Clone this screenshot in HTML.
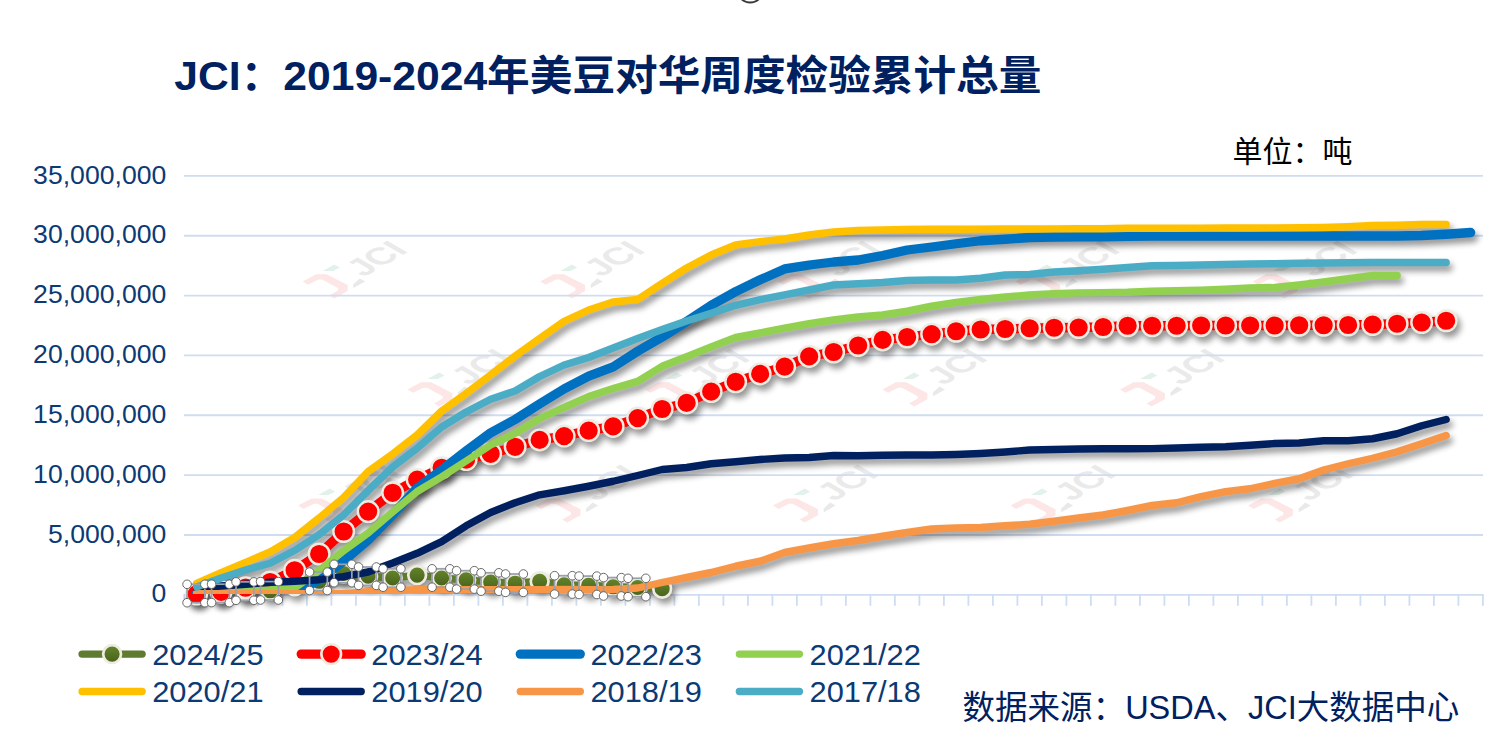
<!DOCTYPE html>
<html lang="zh-CN"><head><meta charset="utf-8"><title>JCI：2019-2024年美豆对华周度检验累计总量</title>
<style>html,body{margin:0;padding:0;background:#fff;overflow:hidden;font-family:"Liberation Sans",sans-serif}svg{display:block}</style></head>
<body>
<!-- Line chart recreated as inline SVG. Visible text is real <text> elements. -->
<svg width="1505" height="742" viewBox="0 0 1505 742" role="img" aria-label="JCI：2019-2024年美豆对华周度检验累计总量">
<defs>
<filter id="sh" filterUnits="userSpaceOnUse" x="0" y="0" width="1505" height="742" color-interpolation-filters="sRGB"><feGaussianBlur in="SourceAlpha" stdDeviation="3.2"/><feOffset dx="3" dy="4.6"/><feComponentTransfer><feFuncA type="linear" slope="0.42"/></feComponentTransfer></filter>
<linearGradient id="gg" x1="0" y1="0" x2="0" y2="1"><stop offset="0" stop-color="#65862B"/><stop offset="1" stop-color="#48611C"/></linearGradient>
<clipPath id="pc"><rect x="150" y="150" width="1355" height="444.1"/></clipPath>
</defs>
<rect width="1505" height="742" fill="#fff"/>
<circle cx="750.2" cy="-10.6" r="13.1" fill="none" stroke="#3a3a3a" stroke-width="1.9"/>
<g font-family="'Liberation Sans',sans-serif" font-weight="bold" font-size="34" fill="#EAEAEA">
<g transform="translate(355.9,269.3)"><path fill="#FDE6E6" d="M-53.2,12.1 L-39.8,4.9 L-29.5,4.9 L-8.3,15.8 L-8.3,21.8 L-21.6,29.1 L-26.5,26.1 L-18,21.2 L-18,18.8 L-33.7,10.3 L-37.4,10.3 L-47.7,15.4 Z"/> <path fill="#E2F1EA" d="M-33.1,1.6 L-21.6,-4.9 L-16.1,-1.8 L-22.8,1.6 Z"/> <path fill="#E9E9E9" d="M-2.8,15.2 L3.9,9.1 L9.3,12.1 L-2.5,18.8 Z"/> <text transform="matrix(0.866,-0.5,0.866,0.5,7.6,8.3)" x="0" y="0">JCI</text></g>
<g transform="translate(593.4,269.3)"><path fill="#FDE6E6" d="M-53.2,12.1 L-39.8,4.9 L-29.5,4.9 L-8.3,15.8 L-8.3,21.8 L-21.6,29.1 L-26.5,26.1 L-18,21.2 L-18,18.8 L-33.7,10.3 L-37.4,10.3 L-47.7,15.4 Z"/> <path fill="#E2F1EA" d="M-33.1,1.6 L-21.6,-4.9 L-16.1,-1.8 L-22.8,1.6 Z"/> <path fill="#E9E9E9" d="M-2.8,15.2 L3.9,9.1 L9.3,12.1 L-2.5,18.8 Z"/> <text transform="matrix(0.866,-0.5,0.866,0.5,7.6,8.3)" x="0" y="0">JCI</text></g>
<g transform="translate(830.9,269.3)"><path fill="#FDE6E6" d="M-53.2,12.1 L-39.8,4.9 L-29.5,4.9 L-8.3,15.8 L-8.3,21.8 L-21.6,29.1 L-26.5,26.1 L-18,21.2 L-18,18.8 L-33.7,10.3 L-37.4,10.3 L-47.7,15.4 Z"/> <path fill="#E2F1EA" d="M-33.1,1.6 L-21.6,-4.9 L-16.1,-1.8 L-22.8,1.6 Z"/> <path fill="#E9E9E9" d="M-2.8,15.2 L3.9,9.1 L9.3,12.1 L-2.5,18.8 Z"/> <text transform="matrix(0.866,-0.5,0.866,0.5,7.6,8.3)" x="0" y="0">JCI</text></g>
<g transform="translate(1068.4,269.3)"><path fill="#FDE6E6" d="M-53.2,12.1 L-39.8,4.9 L-29.5,4.9 L-8.3,15.8 L-8.3,21.8 L-21.6,29.1 L-26.5,26.1 L-18,21.2 L-18,18.8 L-33.7,10.3 L-37.4,10.3 L-47.7,15.4 Z"/> <path fill="#E2F1EA" d="M-33.1,1.6 L-21.6,-4.9 L-16.1,-1.8 L-22.8,1.6 Z"/> <path fill="#E9E9E9" d="M-2.8,15.2 L3.9,9.1 L9.3,12.1 L-2.5,18.8 Z"/> <text transform="matrix(0.866,-0.5,0.866,0.5,7.6,8.3)" x="0" y="0">JCI</text></g>
<g transform="translate(1305.9,269.3)"><path fill="#FDE6E6" d="M-53.2,12.1 L-39.8,4.9 L-29.5,4.9 L-8.3,15.8 L-8.3,21.8 L-21.6,29.1 L-26.5,26.1 L-18,21.2 L-18,18.8 L-33.7,10.3 L-37.4,10.3 L-47.7,15.4 Z"/> <path fill="#E2F1EA" d="M-33.1,1.6 L-21.6,-4.9 L-16.1,-1.8 L-22.8,1.6 Z"/> <path fill="#E9E9E9" d="M-2.8,15.2 L3.9,9.1 L9.3,12.1 L-2.5,18.8 Z"/> <text transform="matrix(0.866,-0.5,0.866,0.5,7.6,8.3)" x="0" y="0">JCI</text></g>
<g transform="translate(460.7,377.4)"><path fill="#FDE6E6" d="M-53.2,12.1 L-39.8,4.9 L-29.5,4.9 L-8.3,15.8 L-8.3,21.8 L-21.6,29.1 L-26.5,26.1 L-18,21.2 L-18,18.8 L-33.7,10.3 L-37.4,10.3 L-47.7,15.4 Z"/> <path fill="#E2F1EA" d="M-33.1,1.6 L-21.6,-4.9 L-16.1,-1.8 L-22.8,1.6 Z"/> <path fill="#E9E9E9" d="M-2.8,15.2 L3.9,9.1 L9.3,12.1 L-2.5,18.8 Z"/> <text transform="matrix(0.866,-0.5,0.866,0.5,7.6,8.3)" x="0" y="0">JCI</text></g>
<g transform="translate(698.2,377.4)"><path fill="#FDE6E6" d="M-53.2,12.1 L-39.8,4.9 L-29.5,4.9 L-8.3,15.8 L-8.3,21.8 L-21.6,29.1 L-26.5,26.1 L-18,21.2 L-18,18.8 L-33.7,10.3 L-37.4,10.3 L-47.7,15.4 Z"/> <path fill="#E2F1EA" d="M-33.1,1.6 L-21.6,-4.9 L-16.1,-1.8 L-22.8,1.6 Z"/> <path fill="#E9E9E9" d="M-2.8,15.2 L3.9,9.1 L9.3,12.1 L-2.5,18.8 Z"/> <text transform="matrix(0.866,-0.5,0.866,0.5,7.6,8.3)" x="0" y="0">JCI</text></g>
<g transform="translate(935.7,377.4)"><path fill="#FDE6E6" d="M-53.2,12.1 L-39.8,4.9 L-29.5,4.9 L-8.3,15.8 L-8.3,21.8 L-21.6,29.1 L-26.5,26.1 L-18,21.2 L-18,18.8 L-33.7,10.3 L-37.4,10.3 L-47.7,15.4 Z"/> <path fill="#E2F1EA" d="M-33.1,1.6 L-21.6,-4.9 L-16.1,-1.8 L-22.8,1.6 Z"/> <path fill="#E9E9E9" d="M-2.8,15.2 L3.9,9.1 L9.3,12.1 L-2.5,18.8 Z"/> <text transform="matrix(0.866,-0.5,0.866,0.5,7.6,8.3)" x="0" y="0">JCI</text></g>
<g transform="translate(1173.2,377.4)"><path fill="#FDE6E6" d="M-53.2,12.1 L-39.8,4.9 L-29.5,4.9 L-8.3,15.8 L-8.3,21.8 L-21.6,29.1 L-26.5,26.1 L-18,21.2 L-18,18.8 L-33.7,10.3 L-37.4,10.3 L-47.7,15.4 Z"/> <path fill="#E2F1EA" d="M-33.1,1.6 L-21.6,-4.9 L-16.1,-1.8 L-22.8,1.6 Z"/> <path fill="#E9E9E9" d="M-2.8,15.2 L3.9,9.1 L9.3,12.1 L-2.5,18.8 Z"/> <text transform="matrix(0.866,-0.5,0.866,0.5,7.6,8.3)" x="0" y="0">JCI</text></g>
<g transform="translate(351.3,493.5)"><path fill="#FDE6E6" d="M-53.2,12.1 L-39.8,4.9 L-29.5,4.9 L-8.3,15.8 L-8.3,21.8 L-21.6,29.1 L-26.5,26.1 L-18,21.2 L-18,18.8 L-33.7,10.3 L-37.4,10.3 L-47.7,15.4 Z"/> <path fill="#E2F1EA" d="M-33.1,1.6 L-21.6,-4.9 L-16.1,-1.8 L-22.8,1.6 Z"/> <path fill="#E9E9E9" d="M-2.8,15.2 L3.9,9.1 L9.3,12.1 L-2.5,18.8 Z"/> <text transform="matrix(0.866,-0.5,0.866,0.5,7.6,8.3)" x="0" y="0">JCI</text></g>
<g transform="translate(588.8,493.5)"><path fill="#FDE6E6" d="M-53.2,12.1 L-39.8,4.9 L-29.5,4.9 L-8.3,15.8 L-8.3,21.8 L-21.6,29.1 L-26.5,26.1 L-18,21.2 L-18,18.8 L-33.7,10.3 L-37.4,10.3 L-47.7,15.4 Z"/> <path fill="#E2F1EA" d="M-33.1,1.6 L-21.6,-4.9 L-16.1,-1.8 L-22.8,1.6 Z"/> <path fill="#E9E9E9" d="M-2.8,15.2 L3.9,9.1 L9.3,12.1 L-2.5,18.8 Z"/> <text transform="matrix(0.866,-0.5,0.866,0.5,7.6,8.3)" x="0" y="0">JCI</text></g>
<g transform="translate(826.3,493.5)"><path fill="#FDE6E6" d="M-53.2,12.1 L-39.8,4.9 L-29.5,4.9 L-8.3,15.8 L-8.3,21.8 L-21.6,29.1 L-26.5,26.1 L-18,21.2 L-18,18.8 L-33.7,10.3 L-37.4,10.3 L-47.7,15.4 Z"/> <path fill="#E2F1EA" d="M-33.1,1.6 L-21.6,-4.9 L-16.1,-1.8 L-22.8,1.6 Z"/> <path fill="#E9E9E9" d="M-2.8,15.2 L3.9,9.1 L9.3,12.1 L-2.5,18.8 Z"/> <text transform="matrix(0.866,-0.5,0.866,0.5,7.6,8.3)" x="0" y="0">JCI</text></g>
<g transform="translate(1063.8,493.5)"><path fill="#FDE6E6" d="M-53.2,12.1 L-39.8,4.9 L-29.5,4.9 L-8.3,15.8 L-8.3,21.8 L-21.6,29.1 L-26.5,26.1 L-18,21.2 L-18,18.8 L-33.7,10.3 L-37.4,10.3 L-47.7,15.4 Z"/> <path fill="#E2F1EA" d="M-33.1,1.6 L-21.6,-4.9 L-16.1,-1.8 L-22.8,1.6 Z"/> <path fill="#E9E9E9" d="M-2.8,15.2 L3.9,9.1 L9.3,12.1 L-2.5,18.8 Z"/> <text transform="matrix(0.866,-0.5,0.866,0.5,7.6,8.3)" x="0" y="0">JCI</text></g>
<g transform="translate(1301.3,493.5)"><path fill="#FDE6E6" d="M-53.2,12.1 L-39.8,4.9 L-29.5,4.9 L-8.3,15.8 L-8.3,21.8 L-21.6,29.1 L-26.5,26.1 L-18,21.2 L-18,18.8 L-33.7,10.3 L-37.4,10.3 L-47.7,15.4 Z"/> <path fill="#E2F1EA" d="M-33.1,1.6 L-21.6,-4.9 L-16.1,-1.8 L-22.8,1.6 Z"/> <path fill="#E9E9E9" d="M-2.8,15.2 L3.9,9.1 L9.3,12.1 L-2.5,18.8 Z"/> <text transform="matrix(0.866,-0.5,0.866,0.5,7.6,8.3)" x="0" y="0">JCI</text></g>
</g>
<g stroke="#CFDDF0" stroke-width="1.9" fill="none">
<line x1="184" y1="175.90" x2="1483" y2="175.90"/>
<line x1="184" y1="235.74" x2="1483" y2="235.74"/>
<line x1="184" y1="295.58" x2="1483" y2="295.58"/>
<line x1="184" y1="355.42" x2="1483" y2="355.42"/>
<line x1="184" y1="415.26" x2="1483" y2="415.26"/>
<line x1="184" y1="475.10" x2="1483" y2="475.10"/>
<line x1="184" y1="534.94" x2="1483" y2="534.94"/>
<line x1="183.5" y1="594.85" x2="1483.8" y2="594.85" stroke-width="1.8"/>
<path d="M184.40,594.8V605.8M208.90,594.8V605.8M233.40,594.8V605.8M257.90,594.8V605.8M282.40,594.8V605.8M306.90,594.8V605.8M331.40,594.8V605.8M355.90,594.8V605.8M380.40,594.8V605.8M404.90,594.8V605.8M429.40,594.8V605.8M453.90,594.8V605.8M478.40,594.8V605.8M502.90,594.8V605.8M527.40,594.8V605.8M551.90,594.8V605.8M576.40,594.8V605.8M600.90,594.8V605.8M625.40,594.8V605.8M649.90,594.8V605.8M674.40,594.8V605.8M698.90,594.8V605.8M723.40,594.8V605.8M747.90,594.8V605.8M772.40,594.8V605.8M796.90,594.8V605.8M821.40,594.8V605.8M845.90,594.8V605.8M870.40,594.8V605.8M894.90,594.8V605.8M919.40,594.8V605.8M943.90,594.8V605.8M968.40,594.8V605.8M992.90,594.8V605.8M1017.40,594.8V605.8M1041.90,594.8V605.8M1066.40,594.8V605.8M1090.90,594.8V605.8M1115.40,594.8V605.8M1139.90,594.8V605.8M1164.40,594.8V605.8M1188.90,594.8V605.8M1213.40,594.8V605.8M1237.90,594.8V605.8M1262.40,594.8V605.8M1286.90,594.8V605.8M1311.40,594.8V605.8M1335.90,594.8V605.8M1360.40,594.8V605.8M1384.90,594.8V605.8M1409.40,594.8V605.8M1433.90,594.8V605.8M1458.40,594.8V605.8M1482.90,594.8V605.8" stroke-width="1.8"/>
</g>
<g>
<g filter="url(#sh)"><g clip-path="url(#pc)"><polyline points="196.65,593.50 221.15,593.40 245.65,591.10 270.15,590.80 294.65,586.20 319.15,581.30 343.65,573.50 368.15,576.20 392.65,578.00 417.15,575.10 441.65,578.00 466.15,579.90 490.65,582.00 515.15,583.20 539.65,581.30 564.15,584.90 588.65,585.30 613.15,586.80 637.65,587.50 662.15,588.70" fill="none" stroke="#5F7B2F" stroke-width="7.4" stroke-linecap="round" stroke-linejoin="round" /></g><circle cx="196.65" cy="593.50" r="8.9" fill="url(#gg)" stroke="#EEECE1" stroke-width="2.7"/><circle cx="221.15" cy="593.40" r="8.9" fill="url(#gg)" stroke="#EEECE1" stroke-width="2.7"/><circle cx="245.65" cy="591.10" r="8.9" fill="url(#gg)" stroke="#EEECE1" stroke-width="2.7"/><circle cx="270.15" cy="590.80" r="8.9" fill="url(#gg)" stroke="#EEECE1" stroke-width="2.7"/><circle cx="294.65" cy="586.20" r="8.9" fill="url(#gg)" stroke="#EEECE1" stroke-width="2.7"/><circle cx="319.15" cy="581.30" r="8.9" fill="url(#gg)" stroke="#EEECE1" stroke-width="2.7"/><circle cx="343.65" cy="573.50" r="8.9" fill="url(#gg)" stroke="#EEECE1" stroke-width="2.7"/><circle cx="368.15" cy="576.20" r="8.9" fill="url(#gg)" stroke="#EEECE1" stroke-width="2.7"/><circle cx="392.65" cy="578.00" r="8.9" fill="url(#gg)" stroke="#EEECE1" stroke-width="2.7"/><circle cx="417.15" cy="575.10" r="8.9" fill="url(#gg)" stroke="#EEECE1" stroke-width="2.7"/><circle cx="441.65" cy="578.00" r="8.9" fill="url(#gg)" stroke="#EEECE1" stroke-width="2.7"/><circle cx="466.15" cy="579.90" r="8.9" fill="url(#gg)" stroke="#EEECE1" stroke-width="2.7"/><circle cx="490.65" cy="582.00" r="8.9" fill="url(#gg)" stroke="#EEECE1" stroke-width="2.7"/><circle cx="515.15" cy="583.20" r="8.9" fill="url(#gg)" stroke="#EEECE1" stroke-width="2.7"/><circle cx="539.65" cy="581.30" r="8.9" fill="url(#gg)" stroke="#EEECE1" stroke-width="2.7"/><circle cx="564.15" cy="584.90" r="8.9" fill="url(#gg)" stroke="#EEECE1" stroke-width="2.7"/><circle cx="588.65" cy="585.30" r="8.9" fill="url(#gg)" stroke="#EEECE1" stroke-width="2.7"/><circle cx="613.15" cy="586.80" r="8.9" fill="url(#gg)" stroke="#EEECE1" stroke-width="2.7"/><circle cx="637.65" cy="587.50" r="8.9" fill="url(#gg)" stroke="#EEECE1" stroke-width="2.7"/><circle cx="662.15" cy="588.70" r="8.9" fill="url(#gg)" stroke="#EEECE1" stroke-width="2.7"/></g>
<g filter="url(#sh)"><g clip-path="url(#pc)"><polyline points="196.65,594.10 221.15,591.80 245.65,587.70 270.15,582.00 294.65,570.30 319.15,554.00 343.65,531.50 368.15,511.60 392.65,492.80 417.15,479.60 441.65,467.80 466.15,459.60 490.65,453.80 515.15,446.80 539.65,439.90 564.15,436.10 588.65,430.60 613.15,426.40 637.65,418.10 662.15,409.00 686.65,402.90 711.15,391.60 735.65,381.80 760.15,373.90 784.65,366.60 809.15,356.40 833.65,352.00 858.15,345.50 882.65,339.90 907.15,337.00 931.65,334.20 956.15,331.25 980.65,329.50 1005.15,329.00 1029.65,328.25 1054.15,327.75 1078.65,327.50 1103.15,327.00 1127.65,325.75 1152.15,325.75 1176.65,325.75 1201.15,325.50 1225.65,325.50 1250.15,325.50 1274.65,325.50 1299.15,325.25 1323.65,325.25 1348.15,325.00 1372.65,324.50 1397.15,323.75 1421.65,322.50 1446.15,320.75" fill="none" stroke="#FF0000" stroke-width="9.3" stroke-linecap="round" stroke-linejoin="round" /></g><circle cx="196.65" cy="594.10" r="10.3" fill="#FF0000" stroke="#EEECE1" stroke-width="2.4"/><circle cx="221.15" cy="591.80" r="10.3" fill="#FF0000" stroke="#EEECE1" stroke-width="2.4"/><circle cx="245.65" cy="587.70" r="10.3" fill="#FF0000" stroke="#EEECE1" stroke-width="2.4"/><circle cx="270.15" cy="582.00" r="10.3" fill="#FF0000" stroke="#EEECE1" stroke-width="2.4"/><circle cx="294.65" cy="570.30" r="10.3" fill="#FF0000" stroke="#EEECE1" stroke-width="2.4"/><circle cx="319.15" cy="554.00" r="10.3" fill="#FF0000" stroke="#EEECE1" stroke-width="2.4"/><circle cx="343.65" cy="531.50" r="10.3" fill="#FF0000" stroke="#EEECE1" stroke-width="2.4"/><circle cx="368.15" cy="511.60" r="10.3" fill="#FF0000" stroke="#EEECE1" stroke-width="2.4"/><circle cx="392.65" cy="492.80" r="10.3" fill="#FF0000" stroke="#EEECE1" stroke-width="2.4"/><circle cx="417.15" cy="479.60" r="10.3" fill="#FF0000" stroke="#EEECE1" stroke-width="2.4"/><circle cx="441.65" cy="467.80" r="10.3" fill="#FF0000" stroke="#EEECE1" stroke-width="2.4"/><circle cx="466.15" cy="459.60" r="10.3" fill="#FF0000" stroke="#EEECE1" stroke-width="2.4"/><circle cx="490.65" cy="453.80" r="10.3" fill="#FF0000" stroke="#EEECE1" stroke-width="2.4"/><circle cx="515.15" cy="446.80" r="10.3" fill="#FF0000" stroke="#EEECE1" stroke-width="2.4"/><circle cx="539.65" cy="439.90" r="10.3" fill="#FF0000" stroke="#EEECE1" stroke-width="2.4"/><circle cx="564.15" cy="436.10" r="10.3" fill="#FF0000" stroke="#EEECE1" stroke-width="2.4"/><circle cx="588.65" cy="430.60" r="10.3" fill="#FF0000" stroke="#EEECE1" stroke-width="2.4"/><circle cx="613.15" cy="426.40" r="10.3" fill="#FF0000" stroke="#EEECE1" stroke-width="2.4"/><circle cx="637.65" cy="418.10" r="10.3" fill="#FF0000" stroke="#EEECE1" stroke-width="2.4"/><circle cx="662.15" cy="409.00" r="10.3" fill="#FF0000" stroke="#EEECE1" stroke-width="2.4"/><circle cx="686.65" cy="402.90" r="10.3" fill="#FF0000" stroke="#EEECE1" stroke-width="2.4"/><circle cx="711.15" cy="391.60" r="10.3" fill="#FF0000" stroke="#EEECE1" stroke-width="2.4"/><circle cx="735.65" cy="381.80" r="10.3" fill="#FF0000" stroke="#EEECE1" stroke-width="2.4"/><circle cx="760.15" cy="373.90" r="10.3" fill="#FF0000" stroke="#EEECE1" stroke-width="2.4"/><circle cx="784.65" cy="366.60" r="10.3" fill="#FF0000" stroke="#EEECE1" stroke-width="2.4"/><circle cx="809.15" cy="356.40" r="10.3" fill="#FF0000" stroke="#EEECE1" stroke-width="2.4"/><circle cx="833.65" cy="352.00" r="10.3" fill="#FF0000" stroke="#EEECE1" stroke-width="2.4"/><circle cx="858.15" cy="345.50" r="10.3" fill="#FF0000" stroke="#EEECE1" stroke-width="2.4"/><circle cx="882.65" cy="339.90" r="10.3" fill="#FF0000" stroke="#EEECE1" stroke-width="2.4"/><circle cx="907.15" cy="337.00" r="10.3" fill="#FF0000" stroke="#EEECE1" stroke-width="2.4"/><circle cx="931.65" cy="334.20" r="10.3" fill="#FF0000" stroke="#EEECE1" stroke-width="2.4"/><circle cx="956.15" cy="331.25" r="10.3" fill="#FF0000" stroke="#EEECE1" stroke-width="2.4"/><circle cx="980.65" cy="329.50" r="10.3" fill="#FF0000" stroke="#EEECE1" stroke-width="2.4"/><circle cx="1005.15" cy="329.00" r="10.3" fill="#FF0000" stroke="#EEECE1" stroke-width="2.4"/><circle cx="1029.65" cy="328.25" r="10.3" fill="#FF0000" stroke="#EEECE1" stroke-width="2.4"/><circle cx="1054.15" cy="327.75" r="10.3" fill="#FF0000" stroke="#EEECE1" stroke-width="2.4"/><circle cx="1078.65" cy="327.50" r="10.3" fill="#FF0000" stroke="#EEECE1" stroke-width="2.4"/><circle cx="1103.15" cy="327.00" r="10.3" fill="#FF0000" stroke="#EEECE1" stroke-width="2.4"/><circle cx="1127.65" cy="325.75" r="10.3" fill="#FF0000" stroke="#EEECE1" stroke-width="2.4"/><circle cx="1152.15" cy="325.75" r="10.3" fill="#FF0000" stroke="#EEECE1" stroke-width="2.4"/><circle cx="1176.65" cy="325.75" r="10.3" fill="#FF0000" stroke="#EEECE1" stroke-width="2.4"/><circle cx="1201.15" cy="325.50" r="10.3" fill="#FF0000" stroke="#EEECE1" stroke-width="2.4"/><circle cx="1225.65" cy="325.50" r="10.3" fill="#FF0000" stroke="#EEECE1" stroke-width="2.4"/><circle cx="1250.15" cy="325.50" r="10.3" fill="#FF0000" stroke="#EEECE1" stroke-width="2.4"/><circle cx="1274.65" cy="325.50" r="10.3" fill="#FF0000" stroke="#EEECE1" stroke-width="2.4"/><circle cx="1299.15" cy="325.25" r="10.3" fill="#FF0000" stroke="#EEECE1" stroke-width="2.4"/><circle cx="1323.65" cy="325.25" r="10.3" fill="#FF0000" stroke="#EEECE1" stroke-width="2.4"/><circle cx="1348.15" cy="325.00" r="10.3" fill="#FF0000" stroke="#EEECE1" stroke-width="2.4"/><circle cx="1372.65" cy="324.50" r="10.3" fill="#FF0000" stroke="#EEECE1" stroke-width="2.4"/><circle cx="1397.15" cy="323.75" r="10.3" fill="#FF0000" stroke="#EEECE1" stroke-width="2.4"/><circle cx="1421.65" cy="322.50" r="10.3" fill="#FF0000" stroke="#EEECE1" stroke-width="2.4"/><circle cx="1446.15" cy="320.75" r="10.3" fill="#FF0000" stroke="#EEECE1" stroke-width="2.4"/></g>
<g clip-path="url(#pc)"><g filter="url(#sh)"><polyline points="196.65,593.00 221.15,592.50 245.65,592.00 270.15,593.50 294.65,593.00 319.15,580.00 343.65,561.00 368.15,540.00 392.65,514.70 417.15,488.00 441.65,470.00 466.15,451.00 490.65,432.80 515.15,419.50 539.65,403.90 564.15,388.90 588.65,376.20 613.15,366.90 637.65,351.25 662.15,337.00 686.65,321.50 711.15,305.30 735.65,291.60 760.15,279.80 784.65,268.90 809.15,265.00 833.65,262.00 858.15,260.00 882.65,255.50 907.15,250.00 931.65,247.00 956.15,243.75 980.65,240.75 1005.15,239.25 1029.65,237.50 1054.15,237.00 1078.65,236.75 1103.15,236.75 1127.65,236.30 1152.15,236.20 1176.65,236.20 1201.15,236.20 1225.65,236.10 1250.15,236.10 1274.65,236.10 1299.15,236.00 1323.65,236.00 1348.15,236.00 1372.65,236.00 1397.15,236.00 1421.65,235.50 1446.15,234.25 1470.65,232.50" fill="none" stroke="#0070C0" stroke-width="9.3" stroke-linecap="round" stroke-linejoin="round" /></g></g>
<g clip-path="url(#pc)"><g filter="url(#sh)"><polyline points="196.65,593.50 221.15,592.50 245.65,591.00 270.15,589.80 294.65,588.00 319.15,570.60 343.65,550.70 368.15,533.00 392.65,512.00 417.15,491.50 441.65,476.80 466.15,461.00 490.65,445.00 515.15,433.40 539.65,418.50 564.15,407.40 588.65,396.60 613.15,388.50 637.65,381.40 662.15,366.30 686.65,356.80 711.15,346.90 735.65,337.50 760.15,333.00 784.65,328.20 809.15,323.75 833.65,320.00 858.15,317.00 882.65,315.00 907.15,311.25 931.65,306.25 956.15,302.50 980.65,299.50 1005.15,297.00 1029.65,295.00 1054.15,293.75 1078.65,292.90 1103.15,292.60 1127.65,292.30 1152.15,291.25 1176.65,290.75 1201.15,290.25 1225.65,289.25 1250.15,288.00 1274.65,287.50 1299.15,285.00 1323.65,282.00 1348.15,278.75 1372.65,275.50 1397.15,275.50" fill="none" stroke="#92D050" stroke-width="7.4" stroke-linecap="round" stroke-linejoin="round" /></g></g>
<g clip-path="url(#pc)"><g filter="url(#sh)"><polyline points="196.65,583.30 221.15,572.60 245.65,562.40 270.15,551.90 294.65,537.50 319.15,518.00 343.65,497.50 368.15,471.50 392.65,454.00 417.15,435.00 441.65,411.00 466.15,393.50 490.65,374.90 515.15,356.00 539.65,338.50 564.15,321.25 588.65,310.00 613.15,302.00 637.65,299.50 662.15,283.30 686.65,268.00 711.15,255.00 735.65,245.00 760.15,241.60 784.65,239.00 809.15,235.00 833.65,232.00 858.15,230.50 882.65,230.00 907.15,229.50 931.65,229.25 956.15,229.20 980.65,229.10 1005.15,229.00 1029.65,229.00 1054.15,228.90 1078.65,228.80 1103.15,228.75 1127.65,228.30 1152.15,228.20 1176.65,228.20 1201.15,228.10 1225.65,228.00 1250.15,228.00 1274.65,227.90 1299.15,227.80 1323.65,227.50 1348.15,226.75 1372.65,225.50 1397.15,225.25 1421.65,224.50 1446.15,224.50" fill="none" stroke="#FFC000" stroke-width="7.4" stroke-linecap="round" stroke-linejoin="round" /></g></g>
<g clip-path="url(#pc)"><g filter="url(#sh)"><polyline points="196.65,588.00 221.15,586.00 245.65,584.30 270.15,582.30 294.65,581.20 319.15,579.70 343.65,576.70 368.15,572.00 392.65,563.00 417.15,553.30 441.65,541.70 466.15,525.80 490.65,512.50 515.15,502.70 539.65,494.80 564.15,490.75 588.65,486.25 613.15,481.25 637.65,475.50 662.15,469.50 686.65,467.50 711.15,463.75 735.65,461.75 760.15,459.50 784.65,458.00 809.15,457.50 833.65,455.50 858.15,455.75 882.65,455.25 907.15,455.00 931.65,455.00 956.15,454.50 980.65,453.50 1005.15,452.00 1029.65,450.00 1054.15,449.50 1078.65,449.00 1103.15,448.75 1127.65,448.75 1152.15,448.60 1176.65,448.00 1201.15,447.30 1225.65,446.80 1250.15,445.30 1274.65,443.50 1299.15,443.00 1323.65,440.75 1348.15,440.75 1372.65,438.75 1397.15,433.75 1421.65,425.75 1446.15,419.50" fill="none" stroke="#002060" stroke-width="7.4" stroke-linecap="round" stroke-linejoin="round" /></g></g>
<g clip-path="url(#pc)"><g filter="url(#sh)"><polyline points="196.65,593.65 221.15,593.65 245.65,593.65 270.15,593.65 294.65,593.65 319.15,593.65 343.65,593.65 368.15,591.70 392.65,590.60 417.15,589.60 441.65,589.60 466.15,589.70 490.65,589.80 515.15,589.70 539.65,589.70 564.15,589.50 588.65,589.75 613.15,589.50 637.65,588.00 662.15,582.50 686.65,577.50 711.15,572.50 735.65,566.25 760.15,561.25 784.65,552.50 809.15,548.00 833.65,543.75 858.15,540.50 882.65,536.25 907.15,532.50 931.65,529.00 956.15,528.00 980.65,527.50 1005.15,525.75 1029.65,524.25 1054.15,521.25 1078.65,518.00 1103.15,515.00 1127.65,510.50 1152.15,505.50 1176.65,502.75 1201.15,496.60 1225.65,491.60 1250.15,488.75 1274.65,483.40 1299.15,478.75 1323.65,470.00 1348.15,463.75 1372.65,458.25 1397.15,451.75 1421.65,443.75 1446.15,435.50" fill="none" stroke="#F79646" stroke-width="7.4" stroke-linecap="round" stroke-linejoin="round" /></g></g>
<g clip-path="url(#pc)"><g filter="url(#sh)"><polyline points="196.65,587.00 221.15,578.10 245.65,570.00 270.15,563.20 294.65,550.50 319.15,534.60 343.65,514.80 368.15,490.50 392.65,467.00 417.15,448.30 441.65,427.00 466.15,412.00 490.65,399.30 515.15,391.00 539.65,376.50 564.15,365.00 588.65,357.50 613.15,348.00 637.65,338.50 662.15,329.60 686.65,321.00 711.15,313.30 735.65,305.30 760.15,299.70 784.65,294.80 809.15,290.00 833.65,285.00 858.15,283.75 882.65,282.50 907.15,280.50 931.65,280.00 956.15,280.00 980.65,278.25 1005.15,275.00 1029.65,274.50 1054.15,272.00 1078.65,270.80 1103.15,269.30 1127.65,267.50 1152.15,265.75 1176.65,265.50 1201.15,265.00 1225.65,264.50 1250.15,264.00 1274.65,263.75 1299.15,263.25 1323.65,263.00 1348.15,262.75 1372.65,262.50 1397.15,262.50 1421.65,262.50 1446.15,262.50" fill="none" stroke="#4BACC6" stroke-width="7.4" stroke-linecap="round" stroke-linejoin="round" /></g></g>
</g>
<g>
<g clip-path="url(#pc)"><polyline points="196.65,593.50 221.15,593.40 245.65,591.10 270.15,590.80 294.65,586.20 319.15,581.30 343.65,573.50 368.15,576.20 392.65,578.00 417.15,575.10 441.65,578.00 466.15,579.90 490.65,582.00 515.15,583.20 539.65,581.30 564.15,584.90 588.65,585.30 613.15,586.80 637.65,587.50 662.15,588.70" fill="none" stroke="#5F7B2F" stroke-width="7.4" stroke-linecap="round" stroke-linejoin="round" /></g>
<g><circle cx="196.65" cy="593.50" r="8.9" fill="url(#gg)" stroke="#EEECE1" stroke-width="2.7"/><circle cx="221.15" cy="593.40" r="8.9" fill="url(#gg)" stroke="#EEECE1" stroke-width="2.7"/><circle cx="245.65" cy="591.10" r="8.9" fill="url(#gg)" stroke="#EEECE1" stroke-width="2.7"/><circle cx="270.15" cy="590.80" r="8.9" fill="url(#gg)" stroke="#EEECE1" stroke-width="2.7"/><circle cx="294.65" cy="586.20" r="8.9" fill="url(#gg)" stroke="#EEECE1" stroke-width="2.7"/><circle cx="319.15" cy="581.30" r="8.9" fill="url(#gg)" stroke="#EEECE1" stroke-width="2.7"/><circle cx="343.65" cy="573.50" r="8.9" fill="url(#gg)" stroke="#EEECE1" stroke-width="2.7"/><circle cx="368.15" cy="576.20" r="8.9" fill="url(#gg)" stroke="#EEECE1" stroke-width="2.7"/><circle cx="392.65" cy="578.00" r="8.9" fill="url(#gg)" stroke="#EEECE1" stroke-width="2.7"/><circle cx="417.15" cy="575.10" r="8.9" fill="url(#gg)" stroke="#EEECE1" stroke-width="2.7"/><circle cx="441.65" cy="578.00" r="8.9" fill="url(#gg)" stroke="#EEECE1" stroke-width="2.7"/><circle cx="466.15" cy="579.90" r="8.9" fill="url(#gg)" stroke="#EEECE1" stroke-width="2.7"/><circle cx="490.65" cy="582.00" r="8.9" fill="url(#gg)" stroke="#EEECE1" stroke-width="2.7"/><circle cx="515.15" cy="583.20" r="8.9" fill="url(#gg)" stroke="#EEECE1" stroke-width="2.7"/><circle cx="539.65" cy="581.30" r="8.9" fill="url(#gg)" stroke="#EEECE1" stroke-width="2.7"/><circle cx="564.15" cy="584.90" r="8.9" fill="url(#gg)" stroke="#EEECE1" stroke-width="2.7"/><circle cx="588.65" cy="585.30" r="8.9" fill="url(#gg)" stroke="#EEECE1" stroke-width="2.7"/><circle cx="613.15" cy="586.80" r="8.9" fill="url(#gg)" stroke="#EEECE1" stroke-width="2.7"/><circle cx="637.65" cy="587.50" r="8.9" fill="url(#gg)" stroke="#EEECE1" stroke-width="2.7"/><circle cx="662.15" cy="588.70" r="8.9" fill="url(#gg)" stroke="#EEECE1" stroke-width="2.7"/></g>
<g clip-path="url(#pc)"><polyline points="196.65,594.10 221.15,591.80 245.65,587.70 270.15,582.00 294.65,570.30 319.15,554.00 343.65,531.50 368.15,511.60 392.65,492.80 417.15,479.60 441.65,467.80 466.15,459.60 490.65,453.80 515.15,446.80 539.65,439.90 564.15,436.10 588.65,430.60 613.15,426.40 637.65,418.10 662.15,409.00 686.65,402.90 711.15,391.60 735.65,381.80 760.15,373.90 784.65,366.60 809.15,356.40 833.65,352.00 858.15,345.50 882.65,339.90 907.15,337.00 931.65,334.20 956.15,331.25 980.65,329.50 1005.15,329.00 1029.65,328.25 1054.15,327.75 1078.65,327.50 1103.15,327.00 1127.65,325.75 1152.15,325.75 1176.65,325.75 1201.15,325.50 1225.65,325.50 1250.15,325.50 1274.65,325.50 1299.15,325.25 1323.65,325.25 1348.15,325.00 1372.65,324.50 1397.15,323.75 1421.65,322.50 1446.15,320.75" fill="none" stroke="#FF0000" stroke-width="9.3" stroke-linecap="round" stroke-linejoin="round" /></g>
<g><circle cx="196.65" cy="594.10" r="10.3" fill="#FF0000" stroke="#EEECE1" stroke-width="2.4"/><circle cx="221.15" cy="591.80" r="10.3" fill="#FF0000" stroke="#EEECE1" stroke-width="2.4"/><circle cx="245.65" cy="587.70" r="10.3" fill="#FF0000" stroke="#EEECE1" stroke-width="2.4"/><circle cx="270.15" cy="582.00" r="10.3" fill="#FF0000" stroke="#EEECE1" stroke-width="2.4"/><circle cx="294.65" cy="570.30" r="10.3" fill="#FF0000" stroke="#EEECE1" stroke-width="2.4"/><circle cx="319.15" cy="554.00" r="10.3" fill="#FF0000" stroke="#EEECE1" stroke-width="2.4"/><circle cx="343.65" cy="531.50" r="10.3" fill="#FF0000" stroke="#EEECE1" stroke-width="2.4"/><circle cx="368.15" cy="511.60" r="10.3" fill="#FF0000" stroke="#EEECE1" stroke-width="2.4"/><circle cx="392.65" cy="492.80" r="10.3" fill="#FF0000" stroke="#EEECE1" stroke-width="2.4"/><circle cx="417.15" cy="479.60" r="10.3" fill="#FF0000" stroke="#EEECE1" stroke-width="2.4"/><circle cx="441.65" cy="467.80" r="10.3" fill="#FF0000" stroke="#EEECE1" stroke-width="2.4"/><circle cx="466.15" cy="459.60" r="10.3" fill="#FF0000" stroke="#EEECE1" stroke-width="2.4"/><circle cx="490.65" cy="453.80" r="10.3" fill="#FF0000" stroke="#EEECE1" stroke-width="2.4"/><circle cx="515.15" cy="446.80" r="10.3" fill="#FF0000" stroke="#EEECE1" stroke-width="2.4"/><circle cx="539.65" cy="439.90" r="10.3" fill="#FF0000" stroke="#EEECE1" stroke-width="2.4"/><circle cx="564.15" cy="436.10" r="10.3" fill="#FF0000" stroke="#EEECE1" stroke-width="2.4"/><circle cx="588.65" cy="430.60" r="10.3" fill="#FF0000" stroke="#EEECE1" stroke-width="2.4"/><circle cx="613.15" cy="426.40" r="10.3" fill="#FF0000" stroke="#EEECE1" stroke-width="2.4"/><circle cx="637.65" cy="418.10" r="10.3" fill="#FF0000" stroke="#EEECE1" stroke-width="2.4"/><circle cx="662.15" cy="409.00" r="10.3" fill="#FF0000" stroke="#EEECE1" stroke-width="2.4"/><circle cx="686.65" cy="402.90" r="10.3" fill="#FF0000" stroke="#EEECE1" stroke-width="2.4"/><circle cx="711.15" cy="391.60" r="10.3" fill="#FF0000" stroke="#EEECE1" stroke-width="2.4"/><circle cx="735.65" cy="381.80" r="10.3" fill="#FF0000" stroke="#EEECE1" stroke-width="2.4"/><circle cx="760.15" cy="373.90" r="10.3" fill="#FF0000" stroke="#EEECE1" stroke-width="2.4"/><circle cx="784.65" cy="366.60" r="10.3" fill="#FF0000" stroke="#EEECE1" stroke-width="2.4"/><circle cx="809.15" cy="356.40" r="10.3" fill="#FF0000" stroke="#EEECE1" stroke-width="2.4"/><circle cx="833.65" cy="352.00" r="10.3" fill="#FF0000" stroke="#EEECE1" stroke-width="2.4"/><circle cx="858.15" cy="345.50" r="10.3" fill="#FF0000" stroke="#EEECE1" stroke-width="2.4"/><circle cx="882.65" cy="339.90" r="10.3" fill="#FF0000" stroke="#EEECE1" stroke-width="2.4"/><circle cx="907.15" cy="337.00" r="10.3" fill="#FF0000" stroke="#EEECE1" stroke-width="2.4"/><circle cx="931.65" cy="334.20" r="10.3" fill="#FF0000" stroke="#EEECE1" stroke-width="2.4"/><circle cx="956.15" cy="331.25" r="10.3" fill="#FF0000" stroke="#EEECE1" stroke-width="2.4"/><circle cx="980.65" cy="329.50" r="10.3" fill="#FF0000" stroke="#EEECE1" stroke-width="2.4"/><circle cx="1005.15" cy="329.00" r="10.3" fill="#FF0000" stroke="#EEECE1" stroke-width="2.4"/><circle cx="1029.65" cy="328.25" r="10.3" fill="#FF0000" stroke="#EEECE1" stroke-width="2.4"/><circle cx="1054.15" cy="327.75" r="10.3" fill="#FF0000" stroke="#EEECE1" stroke-width="2.4"/><circle cx="1078.65" cy="327.50" r="10.3" fill="#FF0000" stroke="#EEECE1" stroke-width="2.4"/><circle cx="1103.15" cy="327.00" r="10.3" fill="#FF0000" stroke="#EEECE1" stroke-width="2.4"/><circle cx="1127.65" cy="325.75" r="10.3" fill="#FF0000" stroke="#EEECE1" stroke-width="2.4"/><circle cx="1152.15" cy="325.75" r="10.3" fill="#FF0000" stroke="#EEECE1" stroke-width="2.4"/><circle cx="1176.65" cy="325.75" r="10.3" fill="#FF0000" stroke="#EEECE1" stroke-width="2.4"/><circle cx="1201.15" cy="325.50" r="10.3" fill="#FF0000" stroke="#EEECE1" stroke-width="2.4"/><circle cx="1225.65" cy="325.50" r="10.3" fill="#FF0000" stroke="#EEECE1" stroke-width="2.4"/><circle cx="1250.15" cy="325.50" r="10.3" fill="#FF0000" stroke="#EEECE1" stroke-width="2.4"/><circle cx="1274.65" cy="325.50" r="10.3" fill="#FF0000" stroke="#EEECE1" stroke-width="2.4"/><circle cx="1299.15" cy="325.25" r="10.3" fill="#FF0000" stroke="#EEECE1" stroke-width="2.4"/><circle cx="1323.65" cy="325.25" r="10.3" fill="#FF0000" stroke="#EEECE1" stroke-width="2.4"/><circle cx="1348.15" cy="325.00" r="10.3" fill="#FF0000" stroke="#EEECE1" stroke-width="2.4"/><circle cx="1372.65" cy="324.50" r="10.3" fill="#FF0000" stroke="#EEECE1" stroke-width="2.4"/><circle cx="1397.15" cy="323.75" r="10.3" fill="#FF0000" stroke="#EEECE1" stroke-width="2.4"/><circle cx="1421.65" cy="322.50" r="10.3" fill="#FF0000" stroke="#EEECE1" stroke-width="2.4"/><circle cx="1446.15" cy="320.75" r="10.3" fill="#FF0000" stroke="#EEECE1" stroke-width="2.4"/></g>
<g clip-path="url(#pc)"><polyline points="196.65,593.00 221.15,592.50 245.65,592.00 270.15,593.50 294.65,593.00 319.15,580.00 343.65,561.00 368.15,540.00 392.65,514.70 417.15,488.00 441.65,470.00 466.15,451.00 490.65,432.80 515.15,419.50 539.65,403.90 564.15,388.90 588.65,376.20 613.15,366.90 637.65,351.25 662.15,337.00 686.65,321.50 711.15,305.30 735.65,291.60 760.15,279.80 784.65,268.90 809.15,265.00 833.65,262.00 858.15,260.00 882.65,255.50 907.15,250.00 931.65,247.00 956.15,243.75 980.65,240.75 1005.15,239.25 1029.65,237.50 1054.15,237.00 1078.65,236.75 1103.15,236.75 1127.65,236.30 1152.15,236.20 1176.65,236.20 1201.15,236.20 1225.65,236.10 1250.15,236.10 1274.65,236.10 1299.15,236.00 1323.65,236.00 1348.15,236.00 1372.65,236.00 1397.15,236.00 1421.65,235.50 1446.15,234.25 1470.65,232.50" fill="none" stroke="#0070C0" stroke-width="9.3" stroke-linecap="round" stroke-linejoin="round" /></g>
<g clip-path="url(#pc)"><polyline points="196.65,593.50 221.15,592.50 245.65,591.00 270.15,589.80 294.65,588.00 319.15,570.60 343.65,550.70 368.15,533.00 392.65,512.00 417.15,491.50 441.65,476.80 466.15,461.00 490.65,445.00 515.15,433.40 539.65,418.50 564.15,407.40 588.65,396.60 613.15,388.50 637.65,381.40 662.15,366.30 686.65,356.80 711.15,346.90 735.65,337.50 760.15,333.00 784.65,328.20 809.15,323.75 833.65,320.00 858.15,317.00 882.65,315.00 907.15,311.25 931.65,306.25 956.15,302.50 980.65,299.50 1005.15,297.00 1029.65,295.00 1054.15,293.75 1078.65,292.90 1103.15,292.60 1127.65,292.30 1152.15,291.25 1176.65,290.75 1201.15,290.25 1225.65,289.25 1250.15,288.00 1274.65,287.50 1299.15,285.00 1323.65,282.00 1348.15,278.75 1372.65,275.50 1397.15,275.50" fill="none" stroke="#92D050" stroke-width="7.4" stroke-linecap="round" stroke-linejoin="round" /></g>
<g clip-path="url(#pc)"><polyline points="196.65,583.30 221.15,572.60 245.65,562.40 270.15,551.90 294.65,537.50 319.15,518.00 343.65,497.50 368.15,471.50 392.65,454.00 417.15,435.00 441.65,411.00 466.15,393.50 490.65,374.90 515.15,356.00 539.65,338.50 564.15,321.25 588.65,310.00 613.15,302.00 637.65,299.50 662.15,283.30 686.65,268.00 711.15,255.00 735.65,245.00 760.15,241.60 784.65,239.00 809.15,235.00 833.65,232.00 858.15,230.50 882.65,230.00 907.15,229.50 931.65,229.25 956.15,229.20 980.65,229.10 1005.15,229.00 1029.65,229.00 1054.15,228.90 1078.65,228.80 1103.15,228.75 1127.65,228.30 1152.15,228.20 1176.65,228.20 1201.15,228.10 1225.65,228.00 1250.15,228.00 1274.65,227.90 1299.15,227.80 1323.65,227.50 1348.15,226.75 1372.65,225.50 1397.15,225.25 1421.65,224.50 1446.15,224.50" fill="none" stroke="#FFC000" stroke-width="7.4" stroke-linecap="round" stroke-linejoin="round" /></g>
<g clip-path="url(#pc)"><polyline points="196.65,588.00 221.15,586.00 245.65,584.30 270.15,582.30 294.65,581.20 319.15,579.70 343.65,576.70 368.15,572.00 392.65,563.00 417.15,553.30 441.65,541.70 466.15,525.80 490.65,512.50 515.15,502.70 539.65,494.80 564.15,490.75 588.65,486.25 613.15,481.25 637.65,475.50 662.15,469.50 686.65,467.50 711.15,463.75 735.65,461.75 760.15,459.50 784.65,458.00 809.15,457.50 833.65,455.50 858.15,455.75 882.65,455.25 907.15,455.00 931.65,455.00 956.15,454.50 980.65,453.50 1005.15,452.00 1029.65,450.00 1054.15,449.50 1078.65,449.00 1103.15,448.75 1127.65,448.75 1152.15,448.60 1176.65,448.00 1201.15,447.30 1225.65,446.80 1250.15,445.30 1274.65,443.50 1299.15,443.00 1323.65,440.75 1348.15,440.75 1372.65,438.75 1397.15,433.75 1421.65,425.75 1446.15,419.50" fill="none" stroke="#002060" stroke-width="7.4" stroke-linecap="round" stroke-linejoin="round" /></g>
<g clip-path="url(#pc)"><polyline points="196.65,593.65 221.15,593.65 245.65,593.65 270.15,593.65 294.65,593.65 319.15,593.65 343.65,593.65 368.15,591.70 392.65,590.60 417.15,589.60 441.65,589.60 466.15,589.70 490.65,589.80 515.15,589.70 539.65,589.70 564.15,589.50 588.65,589.75 613.15,589.50 637.65,588.00 662.15,582.50 686.65,577.50 711.15,572.50 735.65,566.25 760.15,561.25 784.65,552.50 809.15,548.00 833.65,543.75 858.15,540.50 882.65,536.25 907.15,532.50 931.65,529.00 956.15,528.00 980.65,527.50 1005.15,525.75 1029.65,524.25 1054.15,521.25 1078.65,518.00 1103.15,515.00 1127.65,510.50 1152.15,505.50 1176.65,502.75 1201.15,496.60 1225.65,491.60 1250.15,488.75 1274.65,483.40 1299.15,478.75 1323.65,470.00 1348.15,463.75 1372.65,458.25 1397.15,451.75 1421.65,443.75 1446.15,435.50" fill="none" stroke="#F79646" stroke-width="7.4" stroke-linecap="round" stroke-linejoin="round" /></g>
<g clip-path="url(#pc)"><polyline points="196.65,587.00 221.15,578.10 245.65,570.00 270.15,563.20 294.65,550.50 319.15,534.60 343.65,514.80 368.15,490.50 392.65,467.00 417.15,448.30 441.65,427.00 466.15,412.00 490.65,399.30 515.15,391.00 539.65,376.50 564.15,365.00 588.65,357.50 613.15,348.00 637.65,338.50 662.15,329.60 686.65,321.00 711.15,313.30 735.65,305.30 760.15,299.70 784.65,294.80 809.15,290.00 833.65,285.00 858.15,283.75 882.65,282.50 907.15,280.50 931.65,280.00 956.15,280.00 980.65,278.25 1005.15,275.00 1029.65,274.50 1054.15,272.00 1078.65,270.80 1103.15,269.30 1127.65,267.50 1152.15,265.75 1176.65,265.50 1201.15,265.00 1225.65,264.50 1250.15,264.00 1274.65,263.75 1299.15,263.25 1323.65,263.00 1348.15,262.75 1372.65,262.50 1397.15,262.50 1421.65,262.50 1446.15,262.50" fill="none" stroke="#4BACC6" stroke-width="7.4" stroke-linecap="round" stroke-linejoin="round" /></g>
</g>
<g fill="none" stroke="#9AA0AE" stroke-width="1.7">
<rect x="187.05" y="584.30" width="17.80" height="18.40"/>
<rect x="211.55" y="584.20" width="17.80" height="18.40"/>
<rect x="236.05" y="581.90" width="17.80" height="18.40"/>
<rect x="260.55" y="581.60" width="17.80" height="18.40"/>
<rect x="309.55" y="572.10" width="17.80" height="18.40"/>
<rect x="334.05" y="564.30" width="17.80" height="18.40"/>
<rect x="358.55" y="567.00" width="17.80" height="18.40"/>
<rect x="383.05" y="568.80" width="17.80" height="18.40"/>
<rect x="432.05" y="568.80" width="17.80" height="18.40"/>
<rect x="456.55" y="570.70" width="17.80" height="18.40"/>
<rect x="481.05" y="572.80" width="17.80" height="18.40"/>
<rect x="505.55" y="574.00" width="17.80" height="18.40"/>
<rect x="554.55" y="575.70" width="17.80" height="18.40"/>
<rect x="579.05" y="576.10" width="17.80" height="18.40"/>
<rect x="603.55" y="577.60" width="17.80" height="18.40"/>
<rect x="628.05" y="578.30" width="17.80" height="18.40"/>
</g>
<g fill="#fff" stroke="#5a5a5a" stroke-width="0.9">
<circle cx="187.05" cy="584.30" r="4.3"/>
<circle cx="204.85" cy="584.30" r="4.3"/>
<circle cx="187.05" cy="602.70" r="4.3"/>
<circle cx="204.85" cy="602.70" r="4.3"/>
<circle cx="211.55" cy="584.20" r="4.3"/>
<circle cx="229.35" cy="584.20" r="4.3"/>
<circle cx="211.55" cy="602.60" r="4.3"/>
<circle cx="229.35" cy="602.60" r="4.3"/>
<circle cx="236.05" cy="581.90" r="4.3"/>
<circle cx="253.85" cy="581.90" r="4.3"/>
<circle cx="236.05" cy="600.30" r="4.3"/>
<circle cx="253.85" cy="600.30" r="4.3"/>
<circle cx="260.55" cy="581.60" r="4.3"/>
<circle cx="278.35" cy="581.60" r="4.3"/>
<circle cx="260.55" cy="600.00" r="4.3"/>
<circle cx="278.35" cy="600.00" r="4.3"/>
<circle cx="309.55" cy="572.10" r="4.3"/>
<circle cx="327.35" cy="572.10" r="4.3"/>
<circle cx="309.55" cy="590.50" r="4.3"/>
<circle cx="327.35" cy="590.50" r="4.3"/>
<circle cx="334.05" cy="564.30" r="4.3"/>
<circle cx="351.85" cy="564.30" r="4.3"/>
<circle cx="334.05" cy="582.70" r="4.3"/>
<circle cx="351.85" cy="582.70" r="4.3"/>
<circle cx="358.55" cy="567.00" r="4.3"/>
<circle cx="376.35" cy="567.00" r="4.3"/>
<circle cx="358.55" cy="585.40" r="4.3"/>
<circle cx="376.35" cy="585.40" r="4.3"/>
<circle cx="383.05" cy="568.80" r="4.3"/>
<circle cx="400.85" cy="568.80" r="4.3"/>
<circle cx="383.05" cy="587.20" r="4.3"/>
<circle cx="400.85" cy="587.20" r="4.3"/>
<circle cx="432.05" cy="568.80" r="4.3"/>
<circle cx="449.85" cy="568.80" r="4.3"/>
<circle cx="432.05" cy="587.20" r="4.3"/>
<circle cx="449.85" cy="587.20" r="4.3"/>
<circle cx="456.55" cy="570.70" r="4.3"/>
<circle cx="474.35" cy="570.70" r="4.3"/>
<circle cx="456.55" cy="589.10" r="4.3"/>
<circle cx="474.35" cy="589.10" r="4.3"/>
<circle cx="481.05" cy="572.80" r="4.3"/>
<circle cx="498.85" cy="572.80" r="4.3"/>
<circle cx="481.05" cy="591.20" r="4.3"/>
<circle cx="498.85" cy="591.20" r="4.3"/>
<circle cx="505.55" cy="574.00" r="4.3"/>
<circle cx="523.35" cy="574.00" r="4.3"/>
<circle cx="505.55" cy="592.40" r="4.3"/>
<circle cx="523.35" cy="592.40" r="4.3"/>
<circle cx="554.55" cy="575.70" r="4.3"/>
<circle cx="572.35" cy="575.70" r="4.3"/>
<circle cx="554.55" cy="594.10" r="4.3"/>
<circle cx="572.35" cy="594.10" r="4.3"/>
<circle cx="579.05" cy="576.10" r="4.3"/>
<circle cx="596.85" cy="576.10" r="4.3"/>
<circle cx="579.05" cy="594.50" r="4.3"/>
<circle cx="596.85" cy="594.50" r="4.3"/>
<circle cx="603.55" cy="577.60" r="4.3"/>
<circle cx="621.35" cy="577.60" r="4.3"/>
<circle cx="603.55" cy="596.00" r="4.3"/>
<circle cx="621.35" cy="596.00" r="4.3"/>
<circle cx="628.05" cy="578.30" r="4.3"/>
<circle cx="645.85" cy="578.30" r="4.3"/>
<circle cx="628.05" cy="596.70" r="4.3"/>
<circle cx="645.85" cy="596.70" r="4.3"/>
</g>
<line x1="82.1" y1="654.1" x2="142.1" y2="654.1" stroke="#5F7B2F" stroke-width="7.4" stroke-linecap="round"/>
<circle cx="112.1" cy="654.1" r="8.9" fill="url(#gg)" stroke="#EEECE1" stroke-width="2.7"/>
<line x1="301.2" y1="654.1" x2="361.2" y2="654.1" stroke="#FF0000" stroke-width="9.3" stroke-linecap="round"/>
<circle cx="331.2" cy="654.1" r="9.85" fill="#FF0000" stroke="#EEECE1" stroke-width="2.6"/>
<line x1="520.3" y1="654.1" x2="580.3" y2="654.1" stroke="#0070C0" stroke-width="9.3" stroke-linecap="round"/>
<line x1="739.4" y1="654.1" x2="799.4" y2="654.1" stroke="#92D050" stroke-width="7.4" stroke-linecap="round"/>
<line x1="82.1" y1="691.5" x2="142.1" y2="691.5" stroke="#FFC000" stroke-width="7.4" stroke-linecap="round"/>
<line x1="301.2" y1="691.5" x2="361.2" y2="691.5" stroke="#002060" stroke-width="7.4" stroke-linecap="round"/>
<line x1="520.3" y1="691.5" x2="580.3" y2="691.5" stroke="#F79646" stroke-width="7.4" stroke-linecap="round"/>
<line x1="739.4" y1="691.5" x2="799.4" y2="691.5" stroke="#4BACC6" stroke-width="7.4" stroke-linecap="round"/>
<g font-family="'Liberation Sans','Noto Sans CJK SC',sans-serif" stroke="none">
<text x="174.3" y="90.0" font-size="40.8" font-weight="bold" fill="#002060" textLength="867.0" lengthAdjust="spacingAndGlyphs">JCI：2019-2024年美豆对华周度检验累计总量</text>
<text x="1232.4" y="162.2" font-size="30.0" fill="#000" textLength="120.0" lengthAdjust="spacingAndGlyphs">单位：吨</text>
<text x="33.1" y="183.5" font-size="25.9" fill="#0B3A75" textLength="133.2" lengthAdjust="spacingAndGlyphs">35,000,000</text>
<text x="33.1" y="243.3" font-size="25.9" fill="#0B3A75" textLength="133.2" lengthAdjust="spacingAndGlyphs">30,000,000</text>
<text x="33.1" y="303.2" font-size="25.9" fill="#0B3A75" textLength="133.2" lengthAdjust="spacingAndGlyphs">25,000,000</text>
<text x="33.1" y="363.0" font-size="25.9" fill="#0B3A75" textLength="133.2" lengthAdjust="spacingAndGlyphs">20,000,000</text>
<text x="33.1" y="422.9" font-size="25.9" fill="#0B3A75" textLength="133.2" lengthAdjust="spacingAndGlyphs">15,000,000</text>
<text x="33.1" y="482.7" font-size="25.9" fill="#0B3A75" textLength="133.2" lengthAdjust="spacingAndGlyphs">10,000,000</text>
<text x="48.0" y="542.5" font-size="25.9" fill="#0B3A75" textLength="118.3" lengthAdjust="spacingAndGlyphs">5,000,000</text>
<text x="151.5" y="602.4" font-size="25.9" fill="#0B3A75" textLength="14.8" lengthAdjust="spacingAndGlyphs">0</text>
<text x="152.2" y="664.7" font-size="28.7" fill="#0B3A75" textLength="111.4" lengthAdjust="spacingAndGlyphs">2024/25</text>
<text x="371.3" y="664.7" font-size="28.7" fill="#0B3A75" textLength="111.4" lengthAdjust="spacingAndGlyphs">2023/24</text>
<text x="590.4" y="664.7" font-size="28.7" fill="#0B3A75" textLength="111.4" lengthAdjust="spacingAndGlyphs">2022/23</text>
<text x="809.5" y="664.7" font-size="28.7" fill="#0B3A75" textLength="111.4" lengthAdjust="spacingAndGlyphs">2021/22</text>
<text x="152.2" y="702.1" font-size="28.7" fill="#0B3A75" textLength="111.4" lengthAdjust="spacingAndGlyphs">2020/21</text>
<text x="371.3" y="702.1" font-size="28.7" fill="#0B3A75" textLength="111.4" lengthAdjust="spacingAndGlyphs">2019/20</text>
<text x="590.4" y="702.1" font-size="28.7" fill="#0B3A75" textLength="111.4" lengthAdjust="spacingAndGlyphs">2018/19</text>
<text x="809.5" y="702.1" font-size="28.7" fill="#0B3A75" textLength="111.4" lengthAdjust="spacingAndGlyphs">2017/18</text>
<text x="962.6" y="718.8" font-size="32.7" fill="#002060" textLength="496.7" lengthAdjust="spacingAndGlyphs">数据来源：USDA、JCI大数据中心</text>
</g>
</svg>
</body></html>
